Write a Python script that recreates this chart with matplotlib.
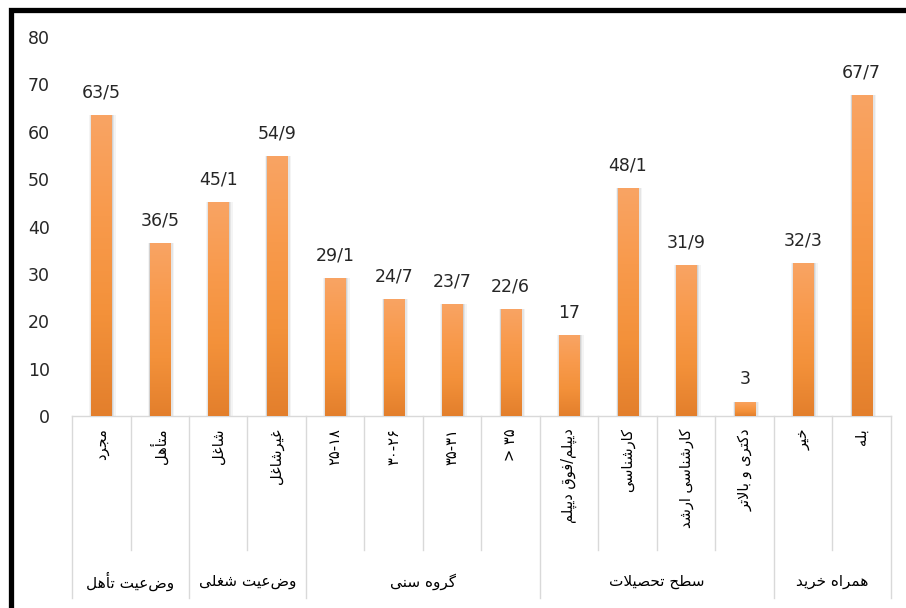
import re
import numpy as np
import matplotlib
matplotlib.use('Agg')
import matplotlib.pyplot as plt
from matplotlib.colors import LinearSegmentedColormap
from matplotlib.patches import Rectangle
from matplotlib.transforms import blended_transform_factory

# ---------------- data ----------------
categories = ['مجرد', 'متأهل', 'شاغل', 'غیرشاغل',
              '۱۸-۲۵', '۲۶-۳۰', '۳۱-۳۵', '۳۵ <',
              'دیپلم/فوق دیپلم', 'کارشناسی', 'کارشناسی ارشد', 'دکتری و بالاتر',
              'خیر', 'بله']
values = [63.5, 36.5, 45.1, 54.9, 29.1, 24.7, 23.7, 22.6, 17, 48.1, 31.9, 3, 32.3, 67.7]
value_labels = ['63/5', '36/5', '45/1', '54/9', '29/1', '24/7', '23/7', '22/6',
                '17', '48/1', '31/9', '3', '32/3', '67/7']
groups = ['وضعیت تأهل', 'وضعیت شغلی', 'گروه سنی', 'سطح تحصیلات', 'همراه خرید']
group_sizes = [2, 2, 4, 4, 2]
yticks = [0, 10, 20, 30, 40, 50, 60, 70, 80]

# ---------------- minimal Persian shaping (presentation forms) ----------------
FORMS = {
    'ا': ('\uFE8D', '\uFE8E', None, None),
    'أ': ('\uFE83', '\uFE84', None, None),
    'ب': ('\uFE8F', '\uFE90', '\uFE91', '\uFE92'),
    'پ': ('\uFB56', '\uFB57', '\uFB58', '\uFB59'),
    'ت': ('\uFE95', '\uFE96', '\uFE97', '\uFE98'),
    'ج': ('\uFE9D', '\uFE9E', '\uFE9F', '\uFEA0'),
    'ح': ('\uFEA1', '\uFEA2', '\uFEA3', '\uFEA4'),
    'خ': ('\uFEA5', '\uFEA6', '\uFEA7', '\uFEA8'),
    'د': ('\uFEA9', '\uFEAA', None, None),
    'ر': ('\uFEAD', '\uFEAE', None, None),
    'ز': ('\uFEAF', '\uFEB0', None, None),
    'س': ('\uFEB1', '\uFEB2', '\uFEB3', '\uFEB4'),
    'ش': ('\uFEB5', '\uFEB6', '\uFEB7', '\uFEB8'),
    'ص': ('\uFEB9', '\uFEBA', '\uFEBB', '\uFEBC'),
    'ط': ('\uFEC1', '\uFEC2', '\uFEC3', '\uFEC4'),
    'ع': ('\uFEC9', '\uFECA', '\uFECB', '\uFECC'),
    'غ': ('\uFECD', '\uFECE', '\uFECF', '\uFED0'),
    'ف': ('\uFED1', '\uFED2', '\uFED3', '\uFED4'),
    'ق': ('\uFED5', '\uFED6', '\uFED7', '\uFED8'),
    'ک': ('\uFB8E', '\uFB8F', '\uFB90', '\uFB91'),
    'گ': ('\uFB92', '\uFB93', '\uFB94', '\uFB95'),
    'ل': ('\uFEDD', '\uFEDE', '\uFEDF', '\uFEE0'),
    'م': ('\uFEE1', '\uFEE2', '\uFEE3', '\uFEE4'),
    'ن': ('\uFEE5', '\uFEE6', '\uFEE7', '\uFEE8'),
    'ه': ('\uFEE9', '\uFEEA', '\uFEEB', '\uFEEC'),
    'و': ('\uFEED', '\uFEEE', None, None),
    'ی': ('\uFBFC', '\uFBFD', '\uFBFE', '\uFBFF'),
}
LIG = {'ا': ('\uFEFB', '\uFEFC'), 'أ': ('\uFEF7', '\uFEF8')}


def shape(s):
    out = []
    i, n = 0, len(s)
    while i < n:
        c = s[i]
        if c not in FORMS:
            out.append(c)
            i += 1
            continue
        prev = s[i - 1] if i > 0 else None
        jp = prev in FORMS and FORMS[prev][2] is not None
        if c == 'ل' and i + 1 < n and s[i + 1] in LIG:
            out.append(LIG[s[i + 1]][1 if jp else 0])
            i += 2
            continue
        nxt = s[i + 1] if i + 1 < n else None
        jn = FORMS[c][2] is not None and nxt in FORMS
        f = FORMS[c]
        out.append(f[3] if (jp and jn) else f[1] if jp else f[2] if jn else f[0])
        i += 1
    return ''.join(out)


def visual(s):
    r = shape(s)[::-1]
    r = re.sub(r'[0-9\u06F0-\u06F9]+', lambda m: m.group(0)[::-1], r)
    return r.translate(str.maketrans('<>()', '><)('))


# ---------------- figure ----------------
plt.rcParams['font.family'] = ['DejaVu Sans']
W, H = 906, 608
fig = plt.figure(figsize=(W / 100, H / 100), dpi=100)
fig.patch.set_facecolor('white')
ax = fig.add_axes([72 / W, (H - 416) / H, 819 / W, 379 / H])

x = np.arange(len(categories))
bw = 0.35

# soft shadows
for dw, dx, a in [(0.10, 0.02, 0.08), (0.06, 0.015, 0.12), (0.03, 0.01, 0.18)]:
    ax.bar(x + dx, values, width=bw + dw, color='#7f7f7f', alpha=a, zorder=1, linewidth=0)

bars = ax.bar(x, values, width=bw, color='none', linewidth=0, zorder=2)
cmap = LinearSegmentedColormap.from_list('og', ['#E37F2C', '#F3913A', '#F89A4C', '#F9A464'])
grad = np.linspace(0, 1, 256).reshape(-1, 1)
for p in bars.patches:
    x0, w, h = p.get_x(), p.get_width(), p.get_height()
    im = ax.imshow(grad, extent=[x0, x0 + w, 0, h], origin='lower', aspect='auto',
                   cmap=cmap, zorder=3, interpolation='bilinear')
    im.set_clip_path(p)

for p, lab in zip(bars.patches, value_labels):
    ax.annotate(lab, xy=(p.get_x() + p.get_width() / 2, p.get_height()),
                xytext=(0, 12.5), textcoords='offset points', ha='center', va='baseline',
                fontsize=12.5, color='#262626')

ax.set_xlim(-0.5, len(categories) - 0.5)
ax.set_ylim(0, 80)
ax.set_yticks(yticks)
ax.set_yticklabels([str(t) for t in yticks])
ax.tick_params(axis='y', length=0, pad=16, labelsize=12.5, labelcolor='#262626')
ax.set_xticks([])
for s in ['left', 'right', 'top']:
    ax.spines[s].set_visible(False)
ax.spines['bottom'].set_color('#D9D9D9')
ax.spines['bottom'].set_linewidth(1.0)

# category separators
tr = blended_transform_factory(ax.transData, ax.transAxes)
bounds = set(np.cumsum([0] + group_sizes).tolist())
for b in range(len(categories) + 1):
    yb = -0.48 if b in bounds else -0.354
    ax.plot([b - 0.5, b - 0.5], [0, yb], transform=tr, color='#D9D9D9', lw=1.0,
            clip_on=False, zorder=0)

# category labels
for i, c in enumerate(categories):
    ax.annotate(visual(c), xy=(i, 0), xycoords=('data', 'axes fraction'),
                xytext=(0, -9), textcoords='offset points', rotation=90,
                ha='center', va='top', fontsize=10.5, color='black')

# group labels
start = 0
for g, n in zip(groups, group_sizes):
    cx = start + (n - 1) / 2
    ax.annotate(visual(g), xy=(cx, 0), xycoords=('data', 'axes fraction'),
                xytext=(0, -119), textcoords='offset points',
                ha='center', va='center', fontsize=11, color='black')
    start += n

# thick black frame (left and top visible)
fig.add_artist(Rectangle((10.5 / W, -0.1), 1.2, (H - 10.5) / H + 0.1,
                         transform=fig.transFigure, fill=False, lw=3.8,
                         ec='black', clip_on=False))

fig.savefig('out.png', dpi=100)
